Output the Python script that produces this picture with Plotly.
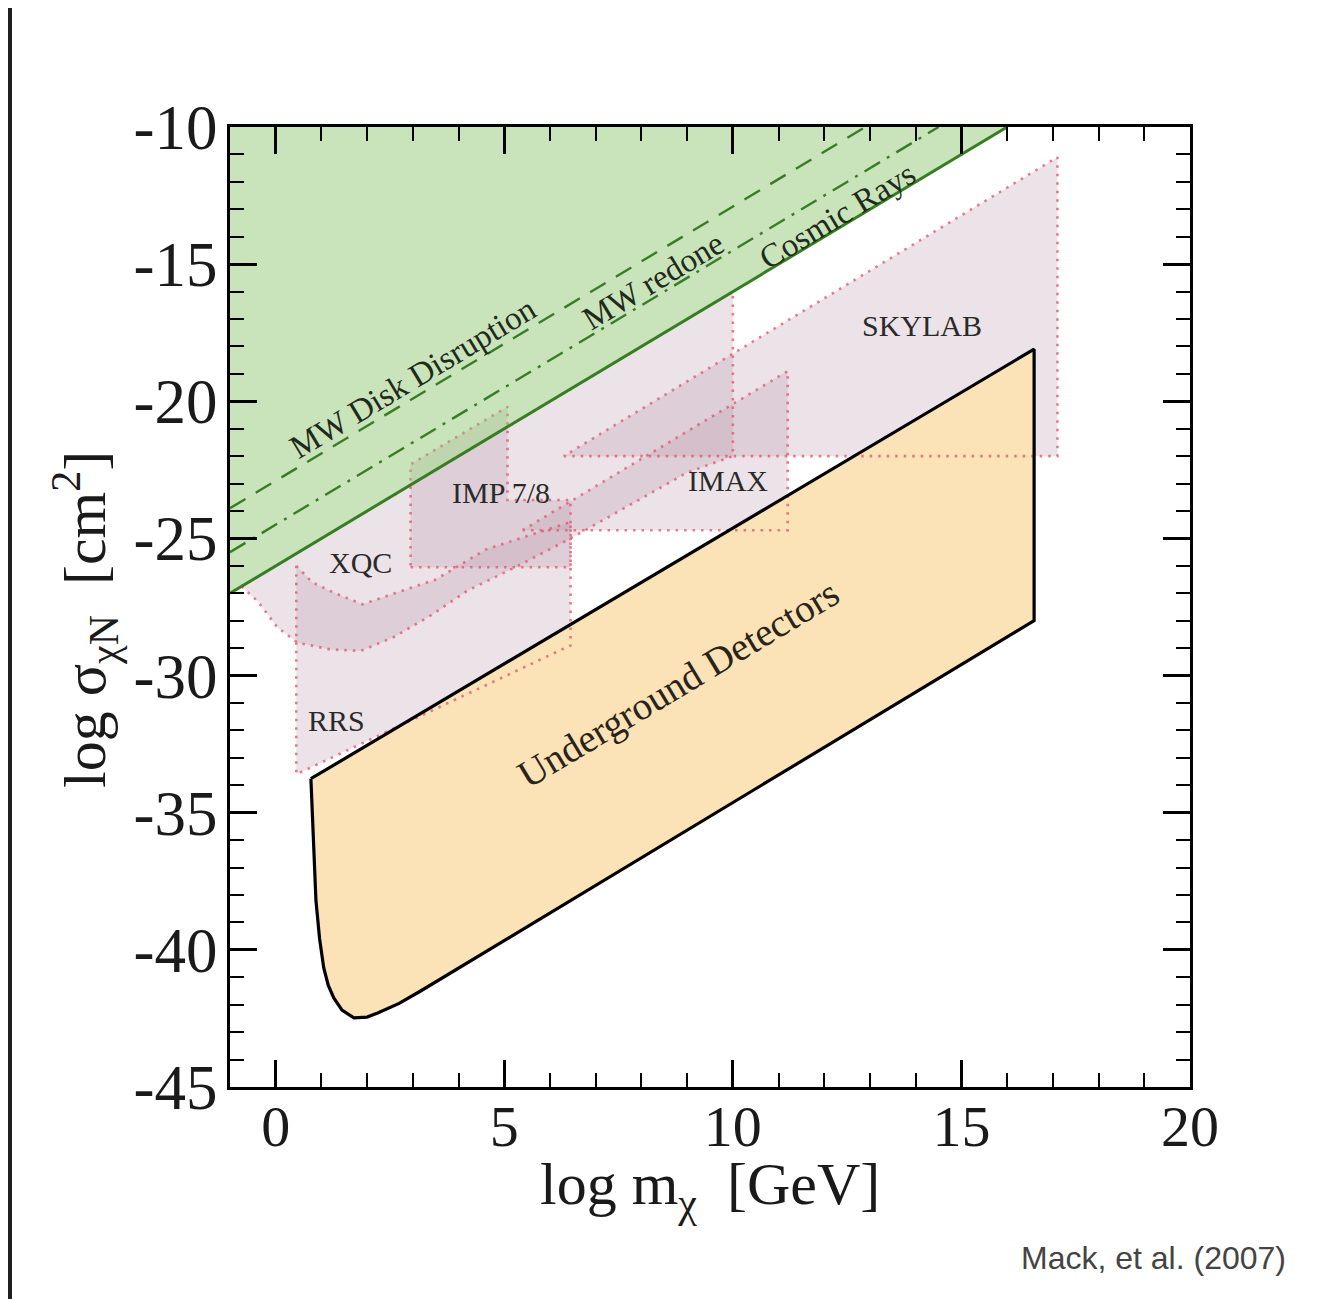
import plotly.graph_objects as go

# ---------------- data (log10 m [GeV], log10 sigma [cm^2]) ----------------
cosmic_x = [-1.0, 16.0]
cosmic_y = [-27.0, -10.0]

mwdisk_x = [-1.0, 12.9]
mwdisk_y = [-23.9, -10.0]

mwredone_x = [-1.0, 14.5]
mwredone_y = [-25.5, -10.0]

underground_x = [0.77, 0.82, 0.88, 0.96, 1.05, 1.15, 1.27, 1.45, 1.71, 2.0, 2.23, 2.7, 3.17, 16.59, 16.59, 0.77]
underground_y = [-33.76, -36.0, -38.2, -39.6, -40.65, -41.3, -41.75, -42.2, -42.48, -42.45, -42.3, -41.95, -41.5, -28.0, -18.1, -33.76]

xqc_x = [-0.75, -0.39, 0.04, 0.48, 1.2, 1.86, 2.58, 3.4, 4.2, 5.3, 6.45, 9.0, 10.0, 10.0, -0.75]
xqc_y = [-26.75, -27.3, -28.25, -28.8, -29.05, -29.1, -28.6, -27.8, -26.9, -26.0, -25.0, -22.6, -22.0, -16.0, -26.75]

rrs_x = [0.45, 0.45, 6.45, 6.45, 4.6, 3.5, 2.6, 1.9, 1.3, 0.8, 0.45]
rrs_y = [-26.0, -33.6, -28.9, -24.4, -25.4, -26.5, -27.0, -27.4, -27.0, -26.6, -26.0]

imp_x = [2.95, 6.45, 6.45, 5.07, 5.07, 2.95, 2.95]
imp_y = [-26.05, -26.05, -23.6, -23.6, -20.2, -22.3, -26.05]

imax_x = [5.4, 11.2, 11.2, 5.4]
imax_y = [-24.7, -24.7, -18.9, -24.7]

skylab_x = [6.3, 17.1, 17.1, 6.3]
skylab_y = [-22.0, -22.0, -11.1, -22.0]

x_ticks = [0, 5, 10, 15, 20]
x_ticklabels = ["0", "5", "10", "15", "20"]
y_ticks = [-45, -40, -35, -30, -25, -20, -15, -10]
y_ticklabels = ["-45", "-40", "-35", "-30", "-25", "-20", "-15", "-10"]

region_labels = ["SKYLAB", "IMAX", "IMP 7/8", "XQC", "RRS"]
region_label_x = [14.14, 9.89, 4.92, 1.86, 1.33]
region_label_y = [-17.23, -22.88, -23.32, -25.88, -31.64]

slant_labels = ["MW Disk Disruption", "MW redone", "Cosmic Rays"]
slant_label_x = [3.0, 8.25, 12.28]
slant_label_y = [-19.16, -15.6, -13.25]

# ---------------- figure ----------------
SERIF = "Liberation Serif, Times New Roman, serif"
PINK_FILL = "rgba(185,150,170,0.27)"
PINK_LINE = "rgba(228,80,105,0.75)"
DOT = "2.5px,6px"

# page body has a small default margin: the figure is sized/offset to compensate
W, H = 1315, 1291
ML, MT, MR, MB = 222, 119, 133, 212
PW = W - ML - MR
PH = H - MT - MB

pink_regions = [(xqc_x, xqc_y), (rrs_x, rrs_y), (imp_x, imp_y), (imax_x, imax_y), (skylab_x, skylab_y)]

fig = go.Figure()

for rx, ry in pink_regions:
    fig.add_trace(go.Scatter(x=rx, y=ry, mode="lines", fill="toself", fillcolor=PINK_FILL,
                             line=dict(width=0), hoverinfo="skip", showlegend=False))

fig.add_trace(go.Scatter(x=underground_x, y=underground_y, mode="lines", fill="toself",
                         fillcolor="rgb(251,226,183)", line=dict(width=0),
                         hoverinfo="skip", showlegend=False))

for rx, ry in pink_regions:
    fig.add_trace(go.Scatter(x=rx, y=ry, mode="lines",
                             line=dict(color=PINK_LINE, width=2.6, dash=DOT),
                             hoverinfo="skip", showlegend=False))

fig.add_trace(go.Scatter(x=underground_x, y=underground_y, mode="lines",
                         line=dict(color="black", width=3.2), hoverinfo="skip", showlegend=False))

fig.add_trace(go.Scatter(x=cosmic_x + [cosmic_x[0]], y=cosmic_y + [cosmic_y[1]], mode="lines",
                         fill="toself", fillcolor="rgba(135,195,105,0.45)", line=dict(width=0),
                         hoverinfo="skip", showlegend=False))

fig.add_trace(go.Scatter(x=mwdisk_x, y=mwdisk_y, mode="lines",
                         line=dict(color="rgb(55,125,35)", width=2.4, dash="18px,12px"),
                         hoverinfo="skip", showlegend=False))
fig.add_trace(go.Scatter(x=mwredone_x, y=mwredone_y, mode="lines",
                         line=dict(color="rgb(55,125,35)", width=2.4, dash="18px,8px,3px,8px"),
                         hoverinfo="skip", showlegend=False))
fig.add_trace(go.Scatter(x=cosmic_x, y=cosmic_y, mode="lines",
                         line=dict(color="rgb(55,125,35)", width=3),
                         hoverinfo="skip", showlegend=False))

annotations = []
for t, x, y in zip(region_labels, region_label_x, region_label_y):
    annotations.append(dict(x=x, y=y, xref="x", yref="y", text=t, showarrow=False,
                            font=dict(family=SERIF, size=30, color="#2a2a2a")))
for t, x, y in zip(slant_labels, slant_label_x, slant_label_y):
    annotations.append(dict(x=x, y=y, xref="x", yref="y", text=t, showarrow=False, textangle=-31,
                            font=dict(family=SERIF, size=33, color="#1f2a1a")))
annotations.append(dict(x=8.8, y=-30.3, xref="x", yref="y", text="Underground Detectors",
                        showarrow=False, textangle=-31,
                        font=dict(family=SERIF, size=39, color="#2a2418")))
annotations.append(dict(x=0.5, y=-(1188 - 1087) / PH, xref="paper", yref="paper",
                        text="log m<sub>χ</sub>  [GeV]", showarrow=False,
                        xanchor="center", yanchor="middle",
                        font=dict(family=SERIF, size=60, color="#1a1a1a")))
annotations.append(dict(x=(85 - 230) / PW, y=(1087 - 620) / PH, xref="paper", yref="paper",
                        text="log σ<sub>χN</sub>  [cm<sup>2</sup>]", showarrow=False, textangle=-90,
                        xanchor="center", yanchor="middle",
                        font=dict(family=SERIF, size=60, color="#1a1a1a")))
annotations.append(dict(x=(1153 - 230) / PW, y=(1087 - 1258) / PH, xref="paper", yref="paper",
                        text="Mack, et al. (2007)", showarrow=False, xanchor="center", yanchor="middle",
                        font=dict(family="Liberation Sans, Arial, sans-serif", size=32, color="#444444")))

axis_common = dict(showgrid=False, zeroline=False, showline=True, linecolor="black", linewidth=3,
                   mirror="ticks", ticks="inside", ticklen=27, tickwidth=2.5, tickcolor="black",
                   minor=dict(ticks="inside", ticklen=14, tickwidth=2, tickcolor="black", dtick=1,
                              showgrid=False))

fig.update_xaxes(range=[-1, 20], tickmode="array", tickvals=x_ticks, ticktext=x_ticklabels,
                 ticklabelstandoff=-14, tickfont=dict(family=SERIF, size=58, color="#1a1a1a"),
                 **axis_common)
fig.update_yaxes(range=[-45, -10], tickmode="array", tickvals=y_ticks, ticktext=y_ticklabels,
                 ticklabelstandoff=-3, tickfont=dict(family=SERIF, size=63, color="#1a1a1a"),
                 **axis_common)

shapes = [
    dict(type="rect", xref="paper", yref="paper", x0=-ML / PW, x1=(4 - ML) / PW,
         y0=-MB / PH, y1=1 + MT / PH, fillcolor="#1f1f1f", line=dict(width=0), layer="above"),
]

fig.update_layout(width=W, height=H, margin=dict(l=ML, r=MR, t=MT, b=MB),
                  paper_bgcolor="white", plot_bgcolor="white", showlegend=False,
                  annotations=annotations, shapes=shapes)

fig.write_html("out.html")
